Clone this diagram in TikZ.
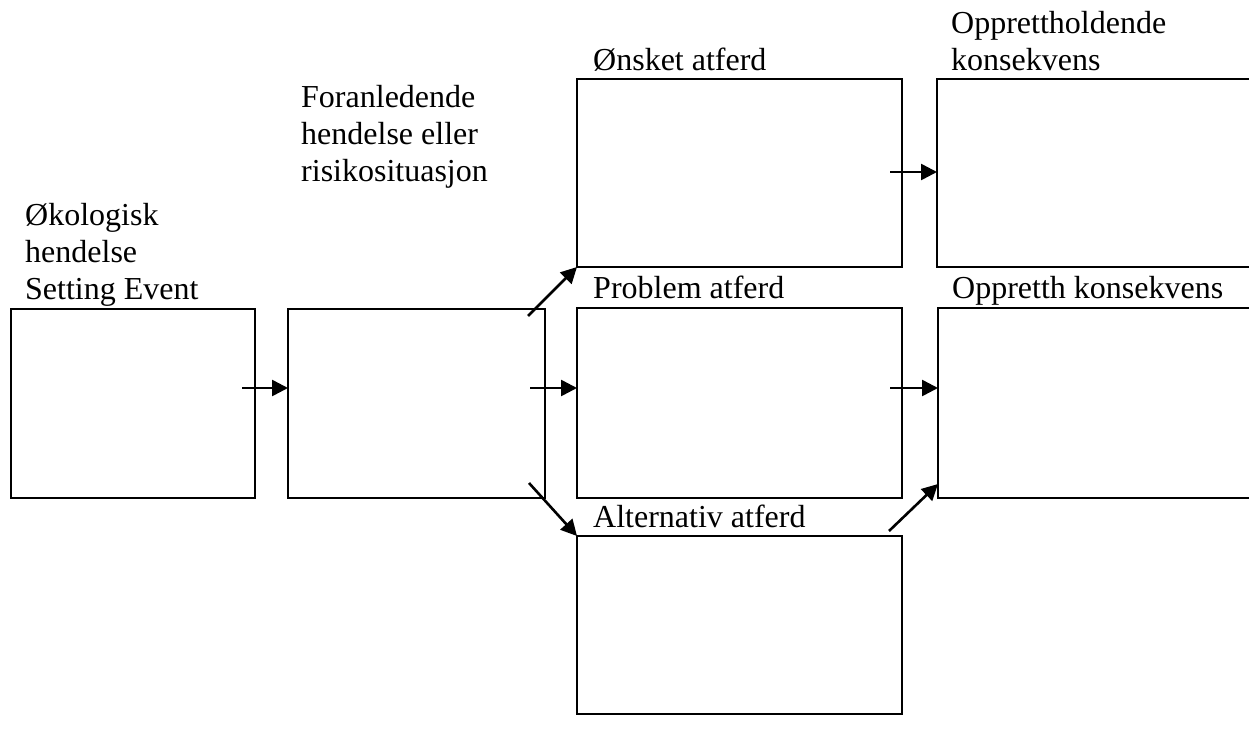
\documentclass[tikz,border=0pt]{standalone}
\usepackage{fontspec}
\setmainfont{Liberation Serif}
\usetikzlibrary{arrows.meta,calc}
\begin{document}
\begin{tikzpicture}[x=1pt,y=-1pt,
  box/.style={draw,line width=2.6pt,rectangle,anchor=north west,inner sep=0pt,outer sep=0pt},
  lbl/.style={anchor=base west,inner sep=0pt,align=left,font=\fontsize{32}{37}\selectfont},
  arr/.style={line width=2.6pt,-{Triangle[length=16pt,width=16pt]}}]
\useasboundingbox (0,0) rectangle (1249,728);
\clip (0,0) rectangle (1249,728);
\node[box,minimum width=244pt,minimum height=189pt] (b1) at (11,309) {};
\node[box,minimum width=257pt,minimum height=189pt] (b2) at (288,309) {};
\node[box,minimum width=325pt,minimum height=188pt] (b3) at (577,79) {};
\node[box,minimum width=325pt,minimum height=190pt] (b4) at (577,308) {};
\node[box,minimum width=325pt,minimum height=178pt] (b5) at (577,536) {};
\node[box,minimum width=330pt,minimum height=188pt] (b6) at (937,79) {};
\node[box,minimum width=330pt,minimum height=190pt] (b7) at (938,308) {};
\node[lbl] (l1) at (25,299) {Økologisk\\hendelse\\Setting Event};
\node[lbl] (l2) at (301,181) {Foranledende\\hendelse eller\\risikosituasjon};
\node[lbl] (l3) at (593,70) {Ønsket atferd};
\node[lbl] (l4) at (951,70) {Opprettholdende\\konsekvens};
\node[lbl] (l5) at (593,298) {Problem atferd};
\node[lbl] (l6) at (952,298) {Oppretth konsekvens};
\node[lbl] (l7) at (593,527) {Alternativ atferd};
\coordinate (t1) at (242,388);
\coordinate (t2) at (530,388);
\coordinate (t3) at (528,316);
\coordinate (t4) at (529,483);
\coordinate (t5) at (890,172);
\coordinate (t6) at (890,388);
\coordinate (t7) at (889,531);
\draw[arr] (t1) -- (t1 -| b2.west);
\draw[arr] (t2) -- (t2 -| b4.west);
\draw[arr] (t3) -- (b3.south west);
\draw[arr] (t4) -- (b5.north west);
\draw[arr] (t5) -- (t5 -| b6.west);
\draw[arr] (t6) -- (t6 -| b7.west);
\draw[arr] (t7) -- ($(b7.south west)+(0,-14)$);
\end{tikzpicture}
\end{document}
